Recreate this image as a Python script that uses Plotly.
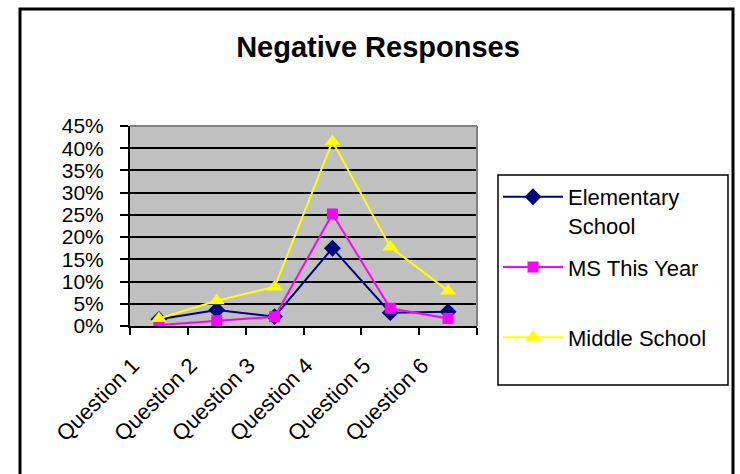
import plotly.graph_objects as go

categories = ["Question 1", "Question 2", "Question 3", "Question 4", "Question 5", "Question 6"]
elementary = [0.015, 0.036, 0.021, 0.175, 0.030, 0.032]
ms_this_year = [0.002, 0.012, 0.021, 0.252, 0.040, 0.017]
middle_school = [0.017, 0.057, 0.088, 0.415, 0.178, 0.079]
y_ticks = [0, 0.05, 0.10, 0.15, 0.20, 0.25, 0.30, 0.35, 0.40, 0.45]

FONT = "Liberation Sans, Arial, sans-serif"
NB = "\u00a0"

fig = go.Figure()
fig.add_trace(go.Scatter(
    x=categories, y=elementary, name="Elementary<br>School", mode="lines+markers",
    legendgroup="a",
    line=dict(color="#000080", width=2),
    marker=dict(symbol="diamond", size=13, color="#000080")))
fig.add_trace(go.Scatter(
    x=categories, y=ms_this_year, name="MS This Year<br>" + NB, mode="lines+markers",
    legendgroup="b",
    line=dict(color="#FF00FF", width=2),
    marker=dict(symbol="square", size=11, color="#FF00FF")))
fig.add_trace(go.Scatter(
    x=categories, y=middle_school, name="Middle School",
    mode="lines+markers",
    legendgroup="c",
    line=dict(color="#FFFF00", width=2),
    marker=dict(symbol="triangle-up", size=14, color="#FFFF00")))

PL, PR, PT, PB = 130, 477, 126, 326  # plot area in page pixels
FW, FH = 740, 474


def px_x(px):
    return (px - PL) / (PR - PL)


def px_y(py):
    return (PB - py) / (PB - PT)


fig.update_layout(
    width=FW, height=FH,
    margin=dict(l=PL, r=FW - PR, t=PT, b=FH - PB),
    paper_bgcolor="white",
    plot_bgcolor="#C0C0C0",
    font=dict(family=FONT, color="black", size=20),
    title=dict(text="<b>Negative Responses</b>", x=378 / FW, xanchor="center",
               y=1 - 47 / FH, yanchor="middle",
               font=dict(family=FONT, size=29, color="black")),
    showlegend=True,
    legend=dict(x=px_x(498), y=px_y(176), xanchor="left", yanchor="top",
                borderwidth=0, bgcolor="rgba(0,0,0,0)",
                font=dict(family=FONT, size=22, color="black"),
                valign="top", tracegroupgap=10, itemwidth=60,
                traceorder="grouped"),
    xaxis=dict(type="category", range=[-0.5, 5.5], showgrid=False,
               showline=True, linecolor="black", linewidth=2,
               ticks="outside", ticklen=7, tickcolor="black", tickwidth=1.5,
               tickson="boundaries", tickangle=-45,
               ticklabelshift=-26, ticklabelstandoff=16,
               tickfont=dict(family=FONT, size=22, color="black")),
    yaxis=dict(range=[0, 0.45], tickvals=y_ticks, tickformat=".0%",
               showgrid=True, gridcolor="black", gridwidth=1.5,
               zeroline=False, showline=True, linecolor="black", linewidth=2,
               ticks="outside", ticklen=8, tickcolor="black", tickwidth=1.5,
               ticklabelstandoff=12,
               tickfont=dict(family=FONT, size=21, color="black")),
    shapes=[
        dict(type="line", xref="paper", yref="paper", x0=0, x1=1, y0=1, y1=1,
             line=dict(color="#808080", width=2), layer="above"),
        dict(type="line", xref="paper", yref="paper", x0=1, x1=1, y0=0, y1=1,
             line=dict(color="#808080", width=2), layer="above"),
        # legend frame
        dict(type="rect", xref="paper", yref="paper",
             x0=px_x(498), x1=px_x(728), y0=px_y(385), y1=px_y(175),
             line=dict(color="black", width=1.5), layer="below"),
        # outer chart border
        dict(type="rect", xref="paper", yref="paper",
             x0=px_x(20), x1=px_x(733), y0=px_y(490), y1=px_y(9),
             line=dict(color="black", width=3), layer="above"),
    ],
)

fig.write_html("out.html", config={"displayModeBar": False},
               post_script="document.body.style.margin='0px';")
